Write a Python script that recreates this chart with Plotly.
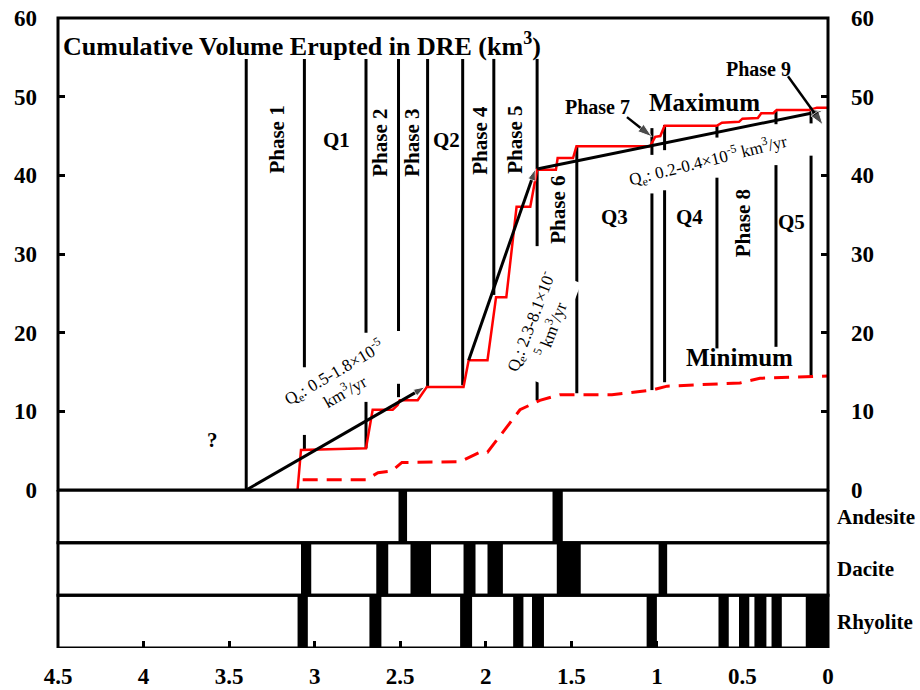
import plotly.graph_objects as go

# ---------------- data ----------------
# Maximum cumulative volume (red step curve), age in Ma vs km3 DRE
max_age = [3.10, 3.08, 2.70, 2.661, 2.544, 2.515, 2.503, 2.398, 2.345, 2.13, 2.10, 1.99, 1.94,
           1.88, 1.82, 1.74, 1.70, 1.59, 1.58, 1.49, 1.47, 1.04, 1.01, 0.98, 0.955, 0.65,
           0.62, 0.52, 0.50, 0.41, 0.39, 0.32, 0.30, 0.105, 0.065, 0.0]
max_vol = [0.0, 5.1, 5.3, 10.2, 10.2, 10.8, 11.4, 11.4, 13.1, 13.1, 16.5, 16.5, 24.5,
           24.5, 36.0, 36.0, 40.7, 40.7, 42.2, 42.2, 43.7, 43.7, 44.9, 45.0, 46.3, 46.3,
           46.7, 46.8, 47.2, 47.3, 47.9, 47.9, 48.3, 48.3, 48.6, 48.6]

# Minimum cumulative volume (red dashed)
min_age = [3.07, 2.70, 2.63, 2.55, 2.49, 2.15, 2.13, 2.035, 1.99, 1.90, 1.80, 1.684,
           1.567, 1.263, 1.029, 0.94, 0.515, 0.398, 0.064, 0.0]
min_vol = [1.3, 1.3, 2.2, 2.4, 3.5, 3.6, 3.8, 4.8, 4.8, 7.4, 10.2, 11.4,
           12.1, 12.1, 12.7, 13.2, 13.6, 14.2, 14.4, 14.5]

# Eruption-rate trend segments (black)
trend1_age = [3.40, 2.355]
trend1_vol = [0.0, 13.1]
trend2_age = [2.10, 1.71]
trend2_vol = [16.5, 40.8]
trend3_age = [1.70, 0.03]
trend3_vol = [40.8, 48.2]

# Phase boundary lines: age, bottom, top
bound_age = [3.40, 3.06, 3.06, 2.70, 2.70, 2.51, 2.51, 2.34, 2.135, 1.953, 1.70, 1.70,
             1.468, 1.029, 1.029, 0.955, 0.955, 0.649, 0.649, 0.304, 0.304, 0.099, 0.099]
bound_lo = [0.0, 15.6, 5.2, 20.0, 5.3, 20.2, 11.8, 13.2, 13.3, 24.8, 31.0, 11.4,
            12.3, 42.6, 12.7, 43.2, 13.7, 44.8, 18.0, 46.5, 18.2, 46.6, 14.4]
bound_hi = [54.8, 54.8, 7.0, 54.8, 11.2, 54.8, 13.5, 54.8, 54.8, 54.8, 54.8, 15.0,
            43.6, 46.0, 37.7, 46.4, 38.1, 46.4, 39.7, 48.2, 41.3, 48.6, 42.5]

# Composition strips: (start age, end age)
andesite = [(2.51, 2.46), (1.61, 1.55)]
dacite = [(3.08, 3.02), (2.64, 2.57), (2.44, 2.32), (2.13, 2.06), (1.99, 1.90),
          (1.585, 1.445), (0.99, 0.94)]
rhyolite = [(3.10, 3.04), (2.68, 2.61), (2.15, 2.08), (1.84, 1.78), (1.73, 1.66),
            (1.06, 1.00), (0.64, 0.58), (0.52, 0.46), (0.43, 0.36), (0.33, 0.27),
            (0.13, 0.0)]
strip_names = ["Rhyolite", "Dacite", "Andesite"]

x_ticks = [4.5, 4, 3.5, 3, 2.5, 2, 1.5, 1, 0.5, 0]
x_ticktext = ["4.5", "4", "3.5", "3", "2.5", "2", "1.5", "1", "0.5", "0"]
y_ticks = [0, 10, 20, 30, 40, 50, 60]

# labels: text, age, volume, angle, size
phase_labels = [
    ("Phase 1", 3.222, 44.5, -90, 21), ("Q1", 2.871, 44.5, 0, 21),
    ("Phase 2", 2.62, 44.1, -90, 21), ("Phase 3", 2.433, 44.1, -90, 21),
    ("Q2", 2.228, 44.5, 0, 21), ("Phase 4", 2.035, 44.5, -90, 21),
    ("Phase 5", 1.83, 44.5, -90, 21), ("Phase 6", 1.579, 35.6, -90, 21),
    ("Q3", 1.246, 34.7, 0, 21), ("Q4", 0.807, 34.7, 0, 21),
    ("Phase 8", 0.497, 33.9, -90, 21), ("Q5", 0.211, 34.1, 0, 21),
    ("Phase 7", 1.345, 48.7, 0, 20), ("Phase 9", 0.409, 53.5, 0, 20),
    ("Maximum", 0.719, 49.3, 0, 25), ("Minimum", 0.515, 16.8, 0, 25),
    ("?", 3.596, 6.4, 0, 21),
]
rate_labels = [
    ("Q<sub>e</sub>: 0.5-1.8×10<sup>-5</sup><br>km<sup>3</sup>/yr", 2.86, 13.9, -30),
    ("Q<sub>e</sub>: 2.3-8.1×10<sup>-</sup><br><sup>5</sup> km<sup>3</sup>/yr", 1.684, 21.0, -69),
    ("Q<sub>e</sub>: 0.2-0.4×10<sup>-5</sup> km<sup>3</sup>/yr", 0.702, 41.9, -14),
]
# pointer arrows: tail age, tail vol, head age, head vol
arrow_tail_age = [1.175, 0.234]
arrow_tail_vol = [47.4, 52.6]
arrow_head_age = [1.029, 0.029]
arrow_head_vol = [44.9, 46.4]

FONT = "Liberation Serif"
SPLIT = 158 / 630

fig = go.Figure()

# boundary lines
bx, by = [], []
for a, lo, hi in zip(bound_age, bound_lo, bound_hi):
    bx += [a, a, None]
    by += [lo, hi, None]
fig.add_trace(go.Scatter(x=bx, y=by, mode="lines", line=dict(color="black", width=3),
                         hoverinfo="skip", showlegend=False))

# red curves
fig.add_trace(go.Scatter(x=min_age, y=min_vol, mode="lines",
                         line=dict(color="#ff0000", width=3, dash="15px,9px"),
                         showlegend=False))
fig.add_trace(go.Scatter(x=max_age, y=max_vol, mode="lines",
                         line=dict(color="#ff0000", width=2.5), showlegend=False))

# trend lines with arrow heads
for ax_, ay_ in [(trend1_age, trend1_vol), (trend2_age, trend2_vol), (trend3_age, trend3_vol)]:
    fig.add_trace(go.Scatter(x=ax_, y=ay_, mode="lines+markers",
                             line=dict(color="black", width=3),
                             marker=dict(symbol="arrow", size=[0, 12], color="black",
                                         angleref="previous"),
                             showlegend=False))

# label pointer arrows
for ta, tv, ha, hv in zip(arrow_tail_age, arrow_tail_vol, arrow_head_age, arrow_head_vol):
    fig.add_trace(go.Scatter(x=[ta, ha], y=[tv, hv], mode="lines+markers",
                             line=dict(color="black", width=2.5),
                             marker=dict(symbol="arrow", size=[0, 15], color="black",
                                         angleref="previous"),
                             showlegend=False))

# right-axis dummy
fig.add_trace(go.Scatter(x=[None], y=[None], yaxis="y3", showlegend=False))

# strips
for row, data in enumerate([rhyolite, dacite, andesite]):
    base = [min(s, e) for s, e in data]
    width = [abs(s - e) for s, e in data]
    fig.add_trace(go.Bar(orientation="h", y=[row + 0.5] * len(data), x=width, base=base,
                         width=1.0, marker=dict(color="black", line=dict(width=0)),
                         yaxis="y2", showlegend=False))

tickfont = dict(family=FONT, size=23, color="black", weight="bold")

shapes = [dict(type="rect", xref="paper", yref="paper", x0=0, x1=1, y0=SPLIT, y1=1,
               line=dict(color="black", width=3), layer="above")]
for r in range(3):
    shapes.append(dict(type="rect", xref="paper", yref="y2", x0=0, x1=1, y0=r, y1=r + 1,
                       line=dict(color="black", width=3), layer="above"))

annotations = [dict(text="Cumulative Volume Erupted in DRE (km<sup>3</sup>)", x=4.48, y=56.6,
                    xref="x", yref="y", xanchor="left", yanchor="middle", showarrow=False,
                    font=dict(family=FONT, size=26, color="black", weight="bold"))]
for t, a, v, ang, sz in phase_labels:
    annotations.append(dict(text=t, x=a, y=v, xref="x", yref="y", showarrow=False,
                            textangle=ang, xanchor="center", yanchor="middle",
                            font=dict(family=FONT, size=sz, color="black", weight="bold")))
for t, a, v, ang in rate_labels:
    annotations.append(dict(text=t, x=a, y=v, xref="x", yref="y", showarrow=False,
                            textangle=ang, xanchor="center", yanchor="middle",
                            bgcolor="white",
                            font=dict(family=FONT, size=17, color="black")))

axcommon = dict(showgrid=False, zeroline=False, showline=False, automargin=False)

fig.update_layout(
    width=920, height=690, margin=dict(l=58, r=92, t=18, b=42),
    paper_bgcolor="white", plot_bgcolor="white",
    barmode="overlay",
    xaxis=dict(range=[4.5, 0], anchor="y2", tickvals=x_ticks, ticktext=x_ticktext,
               ticks="inside", ticklen=7, tickwidth=3, tickcolor="black",
               tickfont=tickfont, ticklabelstandoff=12, **axcommon),
    yaxis=dict(domain=[SPLIT, 1], range=[0, 60], anchor="x", tickvals=y_ticks,
               ticks="inside", ticklen=7, tickwidth=3, tickcolor="black",
               tickfont=tickfont, ticklabelstandoff=20, **axcommon),
    yaxis3=dict(overlaying="y", side="right", range=[0, 60], anchor="x", tickvals=y_ticks,
                ticks="inside", ticklen=7, tickwidth=3, tickcolor="black",
                tickfont=tickfont, ticklabelstandoff=22, **axcommon),
    yaxis2=dict(domain=[0, SPLIT], range=[0, 3], anchor="x", side="right",
                tickvals=[0.5, 1.5, 2.5], ticktext=strip_names, ticks="",
                tickfont=dict(family=FONT, size=21, color="black", weight="bold"),
                ticklabelstandoff=8, **axcommon),
    shapes=shapes, annotations=annotations,
)

fig.write_html("out.html")
